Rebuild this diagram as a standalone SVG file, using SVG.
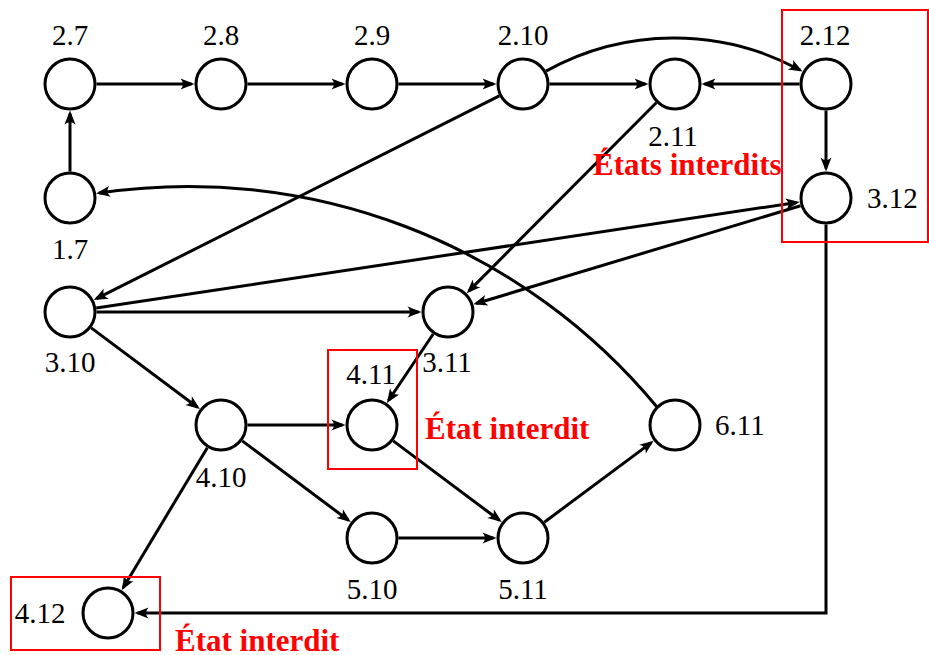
<svg xmlns="http://www.w3.org/2000/svg" width="929" height="655" viewBox="0 0 929 655">
<style>
.node circle{fill:#fff;stroke:#000;stroke-width:3}
.lbl{font-family:"Liberation Serif","Times New Roman",serif;font-size:29px;fill:#000}
.mid{text-anchor:middle}
.edge{fill:none;stroke:#000;stroke-width:3;marker-end:url(#arr)}
.box{fill:none;stroke:#ff0000;stroke-width:2}
.warn{font-family:"Liberation Serif","Times New Roman",serif;font-size:31px;font-weight:bold;fill:#ff0000}
</style>
<defs>
<marker id="arr" markerUnits="userSpaceOnUse" viewBox="-13 -7 17 14" refX="0" refY="0" markerWidth="17" markerHeight="14" orient="auto">
<path d="M3,0 L-11,-5.5 Q-6,0 -11,5.5 Z" fill="#000"/>
</marker>
</defs>
<rect width="929" height="655" fill="#fff"/>
<g id="connectors">
<path class="edge" d="M96.5,84 L191.5,84"/>
<path class="edge" d="M247.5,84 L342.5,84"/>
<path class="edge" d="M398.5,84 L493.5,84"/>
<path class="edge" d="M549.5,84 L645.5,84"/>
<path class="edge" d="M799.5,84 L704.5,84"/>
<path class="edge" d="M826,110.5 L826,168.5"/>
<path class="edge" d="M70,171.5 L70,113.5"/>
<path class="edge" d="M499.3,95.9 L96.4,298.7"/>
<path class="edge" d="M656.3,102.8 L468.8,291.1"/>
<path class="edge" d="M96.2,308 L796.8,202.4"/>
<path class="edge" d="M800.6,205.7 L476.2,303.5"/>
<path class="edge" d="M96.5,312 L418.5,312"/>
<path class="edge" d="M91.2,327.9 L197.4,407.3"/>
<path class="edge" d="M433.2,334 L388.5,400.5"/>
<path class="edge" d="M247.5,425 L342.5,425"/>
<path class="edge" d="M242.2,440.9 L348.4,520.3"/>
<path class="edge" d="M207.3,447.7 L123.2,587.7"/>
<path class="edge" d="M393.2,440.9 L499.4,520.3"/>
<path class="edge" d="M398.5,538 L493.5,538"/>
<path class="edge" d="M544.3,522.2 L651.3,442.6"/>
<path class="edge" d="M826,224.5 L826,613 L137.5,613"/>
<path class="edge" d="M546,71.1 A264,264 0 0 1 800,70"/>
<path class="edge" d="M657,407 A608.4,608.4 0 0 0 99,193"/>
</g>
<g id="n2_7" class="node"><circle cx="70" cy="84" r="25"/><text class="lbl mid" x="70" y="45">2.7</text></g>
<g id="n2_8" class="node"><circle cx="221" cy="84" r="25"/><text class="lbl mid" x="221" y="45">2.8</text></g>
<g id="n2_9" class="node"><circle cx="372" cy="84" r="25"/><text class="lbl mid" x="372" y="45">2.9</text></g>
<g id="n2_10" class="node"><circle cx="523" cy="84" r="25"/><text class="lbl mid" x="523" y="45">2.10</text></g>
<g id="n2_11" class="node"><circle cx="675" cy="84" r="25"/><text class="lbl mid" x="673" y="146">2.11</text></g>
<g id="n2_12" class="node"><circle cx="826" cy="84" r="25"/><text class="lbl mid" x="825" y="45">2.12</text></g>
<g id="n1_7" class="node"><circle cx="70" cy="198" r="25"/><text class="lbl mid" x="70" y="259">1.7</text></g>
<g id="n3_12" class="node"><circle cx="826" cy="198" r="25"/><text class="lbl" x="867" y="208">3.12</text></g>
<g id="n3_10" class="node"><circle cx="70" cy="312" r="25"/><text class="lbl mid" x="70" y="372">3.10</text></g>
<g id="n3_11" class="node"><circle cx="448" cy="312" r="25"/><text class="lbl mid" x="447" y="372">3.11</text></g>
<g id="n4_10" class="node"><circle cx="221" cy="425" r="25"/><text class="lbl mid" x="221" y="487">4.10</text></g>
<g id="n4_11" class="node"><circle cx="372" cy="425" r="25"/><text class="lbl mid" x="371" y="384">4.11</text></g>
<g id="n6_11" class="node"><circle cx="675" cy="425" r="25"/><text class="lbl" x="715" y="435">6.11</text></g>
<g id="n5_10" class="node"><circle cx="372" cy="538" r="25"/><text class="lbl mid" x="372" y="599">5.10</text></g>
<g id="n5_11" class="node"><circle cx="523" cy="538" r="25"/><text class="lbl mid" x="523" y="599">5.11</text></g>
<g id="n4_12" class="node"><circle cx="108" cy="613" r="25"/><text class="lbl mid" x="40" y="623">4.12</text></g>
<g id="forbidden">
<rect class="box" x="782" y="10" width="146" height="232"/>
<text class="warn" x="593" y="175">États interdits</text>
<rect class="box" x="328" y="350" width="89" height="119"/>
<text class="warn" x="425" y="439">État interdit</text>
<rect class="box" x="11" y="577" width="149" height="73"/>
<text class="warn" x="175" y="651">État interdit</text>
</g>
</svg>
